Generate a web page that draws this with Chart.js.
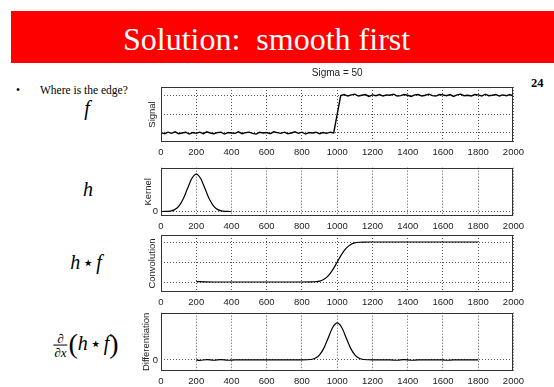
<!DOCTYPE html>
<html>
<head>
<meta charset="utf-8">
<script src="https://cdn.jsdelivr.net/npm/chart.js@4.4.0/dist/chart.umd.min.js"></script>
<style>
  body { margin: 0; width: 554px; height: 387px; position: relative; overflow: hidden; background: #fff;
         font-family: 'Liberation Serif', 'Times New Roman', serif; }
  #bar { position: absolute; left: 11px; top: 11px; width: 543px; height: 52px; background: #ff0000; }
  #title { position: absolute; left: 123px; top: 23px; font-size: 32px; line-height: 32px; color: #fff; white-space: pre; }
  #bullet { position: absolute; left: 16px; top: 84px; font-size: 11.5px; line-height: 12px; }
  #question { position: absolute; left: 40px; top: 84px; font-size: 11.5px; line-height: 12px; }
  #page { position: absolute; left: 531px; top: 76px; font-size: 12.5px; font-weight: bold; }
  .math { position: absolute; transform: translate(-50%, -50%); font-style: italic; font-size: 20px;
          line-height: 1; white-space: nowrap; }
  .op { font-style: normal; font-family: 'DejaVu Sans', sans-serif; font-size: 19px; margin: 0 2px; vertical-align: 0px; }
  .frac { display: inline-flex; flex-direction: column; align-items: center; font-size: 13px; vertical-align: middle; margin-right: 1px; }
  .frac .den { border-top: 1px solid #000; padding: 0 1px; }
  .paren { font-style: normal; font-size: 28px; vertical-align: -3px; }
  canvas { position: absolute; }
</style>
</head>
<body>
<div id="bar"></div>
<div id="title">Solution:  smooth first</div>
<div id="bullet">•</div>
<div id="question">Where is the edge?</div>
<div id="page">24</div>

<div class="math" style="left:87px; top:108px;">f</div>
<div class="math" style="left:88px; top:189px;">h</div>
<div class="math" style="left:86px; top:262px;">h<span class="op">⋆</span>f</div>
<div class="math" style="left:86px; top:344px;"><span class="frac"><span>∂</span><span class="den">∂x</span></span><span class="paren">(</span>h<span class="op">⋆</span>f<span class="paren">)</span></div>

<canvas id="signalChart" width="399" height="95" style="left:130px; top:65px;"></canvas>
<canvas id="kernelChart" width="399" height="75" style="left:130px; top:159px;"></canvas>
<canvas id="convChart" width="399" height="79" style="left:130px; top:231px;"></canvas>
<canvas id="diffChart" width="399" height="85" style="left:130px; top:304px;"></canvas>

<script>
// Ticks del eje x (compartidos por los cuatro paneles)
const xTickValues = [0, 200, 400, 600, 800, 1000, 1200, 1400, 1600, 1800, 2000];

// Señal con ruido: escalón en x = 1000
const signalX = [
    0, 20, 40, 60, 80, 100, 120, 140, 160, 180,
    200, 220, 240, 260, 280, 300, 320, 340, 360, 380,
    400, 420, 440, 460, 480, 500, 520, 540, 560, 580,
    600, 620, 640, 660, 680, 700, 720, 740, 760, 780,
    800, 820, 840, 860, 880, 900, 920, 940, 960, 980,
    1000,
    1020, 1040, 1060, 1080, 1100, 1120, 1140, 1160, 1180, 1200,
    1220, 1240, 1260, 1280, 1300, 1320, 1340, 1360, 1380, 1400,
    1420, 1440, 1460, 1480, 1500, 1520, 1540, 1560, 1580, 1600,
    1620, 1640, 1660, 1680, 1700, 1720, 1740, 1760, 1780, 1800,
    1820, 1840, 1860, 1880, 1900, 1920, 1940, 1960, 1980, 2000
];
const signalY = [
    0.01, -0.02, 0.02, -0.01, 0.03, -0.02, 0.00, 0.02, -0.03, 0.01,
    -0.01, 0.02, -0.02, 0.03, 0.00, -0.02, 0.01, 0.02, -0.03, 0.01,
    0.00, -0.01, 0.03, -0.02, 0.01, 0.02, -0.01, -0.03, 0.02, 0.00,
    0.01, -0.02, 0.03, 0.01, -0.01, 0.02, -0.02, 0.00, 0.03, -0.01,
    0.02, -0.03, 0.01, 0.00, 0.02, -0.02, 0.01, -0.01, 0.02, 0.00,
    0.50,
    0.99, 1.02, 0.98, 1.01, 1.03, 0.98, 1.00, 1.02, 0.97, 1.01,
    0.99, 1.02, 0.98, 1.01, 1.00, 1.03, 0.98, 0.99, 1.02, 1.00,
    0.97, 1.01, 1.02, 0.98, 1.00, 1.03, 0.99, 0.98, 1.02, 1.01,
    0.99, 1.02, 0.97, 1.01, 1.03, 0.99, 1.00, 0.98, 1.02, 1.01,
    0.98, 1.03, 0.99, 1.00, 1.02, 0.98, 1.01, 0.99, 1.02, 0.98
];

// Kernel gaussiano (sigma = 50), centrado en 200
const kernelX = [0, 25, 50, 75, 100, 125, 150, 175, 200, 225, 250, 275, 300, 325, 350, 375, 400];
const kernelY = [0.000, 0.002, 0.011, 0.044, 0.135, 0.325, 0.607, 0.882, 1.000,
                 0.882, 0.607, 0.325, 0.135, 0.044, 0.011, 0.002, 0.000];

// Convolución h * f
const convX = [200, 250, 300, 350, 400, 450, 500, 550, 600, 650, 700, 750, 800, 850,
               875, 900, 925, 950, 975, 1000, 1025, 1050, 1075, 1100, 1125, 1150,
               1200, 1250, 1300, 1350, 1400, 1450, 1500, 1550, 1600, 1650, 1700, 1750, 1800];
const convY = [0.012, 0.004, 0, 0, 0, 0, 0, 0, 0, 0, 0, 0, 0, 0.002,
               0.006, 0.023, 0.067, 0.159, 0.309, 0.500, 0.691, 0.841, 0.933, 0.977, 0.994, 0.999,
               1, 1, 1, 1, 1, 1, 1, 1, 1, 1, 1, 1, 1];

// Derivada de la convolución
const diffX = [200, 220, 260, 300, 340, 380, 420, 500, 600, 700, 800,
               850, 875, 900, 925, 950, 975, 1000, 1025, 1050, 1075, 1100, 1125, 1150,
               1200, 1300, 1340, 1380, 1420, 1460, 1500, 1600, 1620, 1660, 1700, 1800];
const diffY = [0, -0.012, 0.008, -0.010, 0.008, -0.010, 0, 0, 0, 0, 0,
               0.011, 0.044, 0.135, 0.325, 0.607, 0.882, 1.000, 0.882, 0.607, 0.325, 0.135, 0.044, 0.011,
               0, 0, -0.010, 0.008, -0.010, 0, 0, 0, -0.010, 0, 0, 0];

const sansFont = "'Liberation Sans', Arial, sans-serif";
const tickFont = { family: sansFont, size: 9.5 };
const labelFont = { family: sansFont, size: 9.5 };
const gridColor = '#555';

// Caja completa estilo MATLAB alrededor del área de dibujo
const boxPlugin = {
    id: 'box',
    afterDatasetsDraw(chart) {
        const { ctx, chartArea: a } = chart;
        ctx.save();
        ctx.strokeStyle = '#333';
        ctx.lineWidth = 1;
        ctx.strokeRect(Math.round(a.left) + 0.5, Math.round(a.top) + 0.5,
                       Math.round(a.right - a.left) - 1, Math.round(a.bottom - a.top) - 1);
        ctx.restore();
    }
};

function makePlot(id, xs, ys, p) {
    const ctx = document.getElementById(id).getContext('2d');
    return new Chart(ctx, {
        type: 'line',
        data: {
            datasets: [{
                data: xs.map((x, i) => ({ x, y: ys[i] })),
                borderColor: '#000',
                borderWidth: p.lineWidth,
                pointRadius: 0,
                fill: false,
                tension: 0,
                cubicInterpolationMode: p.smooth ? 'monotone' : 'default'
            }]
        },
        options: {
            responsive: false,
            animation: false,
            devicePixelRatio: 1,
            layout: { padding: { left: 0, right: 14, top: p.padTop, bottom: 0 } },
            plugins: {
                legend: { display: false },
                tooltip: { enabled: false },
                title: p.chartTitle ? {
                    display: true,
                    text: p.chartTitle,
                    fullSize: false,
                    font: { family: sansFont, size: 10, weight: 'normal' },
                    color: '#222',
                    padding: { top: 0, bottom: 8 }
                } : { display: false }
            },
            scales: {
                x: {
                    type: 'linear',
                    min: 0,
                    max: 2000,
                    afterBuildTicks: s => { s.ticks = xTickValues.map(v => ({ value: v })); },
                    afterFit: s => { s.height = 18; },
                    ticks: { font: tickFont, color: '#222', padding: 5, maxRotation: 0, autoSkip: false,
                             callback: v => String(v) },
                    grid: { color: gridColor, drawTicks: false },
                    border: { display: false, dash: [1, 2] }
                },
                y: {
                    type: 'linear',
                    min: p.yMin,
                    max: p.yMax,
                    afterBuildTicks: s => { s.ticks = p.yTicks.map(v => ({ value: v })); },
                    afterFit: s => { s.width = 31; },
                    ticks: { display: p.yLabels, font: tickFont, color: '#222', padding: 3,
                             callback: v => String(v) },
                    grid: { color: gridColor, drawTicks: false },
                    border: { display: false, dash: [1, 2] },
                    title: {
                        display: true,
                        text: p.yTitle,
                        font: labelFont,
                        color: '#222',
                        padding: { top: p.titleOffset, bottom: 0 }
                    }
                }
            }
        },
        plugins: [boxPlugin]
    });
}

makePlot('signalChart', signalX, signalY, {
    yTitle: 'Signal', titleOffset: 17, chartTitle: 'Sigma = 50', padTop: 2,
    yMin: -0.24, yMax: 1.22, yTicks: [0, 0.5, 1], yLabels: false, lineWidth: 1.4, smooth: false
});
makePlot('kernelChart', kernelX, kernelY, {
    yTitle: 'Kernel', titleOffset: 13, padTop: 4,
    yMin: -0.12, yMax: 1.17, yTicks: [0], yLabels: true, lineWidth: 1.2, smooth: true
});
makePlot('convChart', convX, convY, {
    yTitle: 'Convolution', titleOffset: 17, padTop: 4,
    yMin: -0.25, yMax: 1.175, yTicks: [0, 0.5, 1], yLabels: false, lineWidth: 1.2, smooth: true
});
makePlot('diffChart', diffX, diffY, {
    yTitle: 'Differentiation', titleOffset: 11, padTop: 4,
    yMin: -0.3, yMax: 1.275, yTicks: [0], yLabels: true, lineWidth: 1.2, smooth: true
});
</script>
</body>
</html>
